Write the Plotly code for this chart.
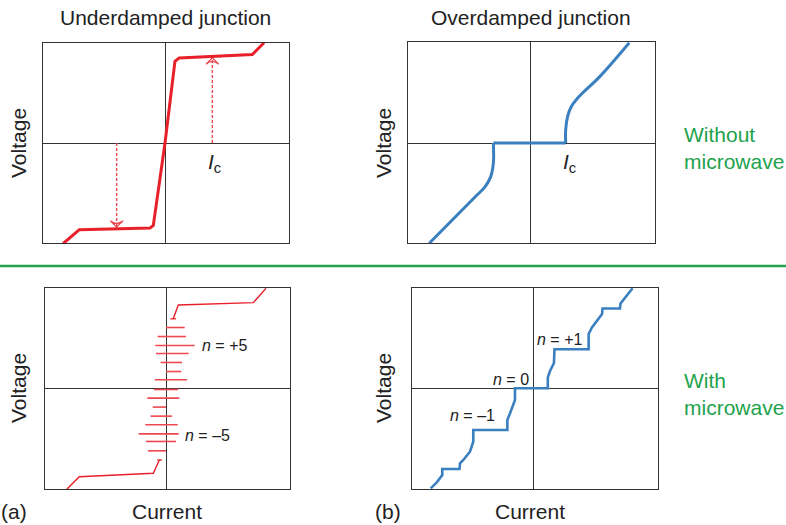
import plotly.graph_objects as go

W, H = 786, 525
FONT = "Liberation Sans, Arial, Helvetica, sans-serif"
RED = "#e8202a"
RED_LIGHT = "#ee4850"
BLUE = "#3a80c0"
GREEN = "#22a24c"
INK = "#222222"

# ---------------- data (current, voltage) in normalised units ----------------
# (a) top: underdamped junction, hysteretic I-V
under_I = [-0.827, -0.697, -0.122, -0.095, 0.0, 0.081, 0.116, 0.710, 0.805]
under_V = [-1.0, -0.863, -0.847, -0.82, 0.0, 0.813, 0.847, 0.880, 0.997]
# switching arrows (dotted): current, from-voltage, to-voltage
arrow_I = [0.385, -0.393]
arrow_V0 = [0.0, 0.0]
arrow_V1 = [0.847, -0.837]

# (b) top: overdamped junction
over_neg_I = [-0.819, -0.433, -0.366, -0.320, -0.298, -0.298]
over_neg_V = [-0.997, -0.52, -0.437, -0.337, -0.203, 0.0]
over_flat_I = [-0.298, 0.290]
over_flat_V = [0.0, 0.0]
over_pos_I = [0.290, 0.290, 0.305, 0.335, 0.390, 0.569, 0.807]
over_pos_V = [0.0, 0.13, 0.26, 0.36, 0.45, 0.663, 0.997]

# (a) bottom: underdamped with microwave
uw_top_I = [0.059, 0.100, 0.710, 0.813]
uw_top_V = [0.692, 0.829, 0.852, 0.995]
uw_bot_I = [-0.807, -0.705, -0.103, -0.054]
uw_bot_V = [-1.005, -0.880, -0.846, -0.713]
step_V = [0.692, 0.605, 0.515, 0.426, 0.346, 0.257, 0.167, 0.085, -0.012,
          -0.098, -0.187, -0.277, -0.363, -0.453, -0.529, -0.622, -0.713]
step_L = [0.035, 0.0, -0.068, -0.087, -0.081, -0.044, 0.0, -0.092, -0.098,
          -0.152, -0.108, -0.125, -0.168, -0.222, -0.163, -0.146, -0.071]
step_R = [0.081, 0.152, 0.162, 0.233, 0.184, 0.130, 0.124, 0.171, 0.098,
          0.108, 0.0, 0.049, 0.095, 0.103, 0.081, 0.0, -0.033]

# (b) bottom: overdamped with microwave (Shapiro steps)
sh_I = [-0.834, -0.783, -0.740, -0.740, -0.600, -0.596, -0.569, -0.515, -0.488,
        -0.488, -0.211, -0.211, -0.189, -0.173, -0.149, -0.149, 0.118, 0.118,
        0.136, 0.168, 0.172, 0.450, 0.450, 0.477, 0.518, 0.559, 0.563, 0.705,
        0.709, 0.753, 0.807]
sh_V = [-0.995, -0.933, -0.863, -0.803, -0.803, -0.746, -0.713, -0.631, -0.531,
        -0.415, -0.415, -0.315, -0.249, -0.186, -0.116, 0.0, 0.0, 0.107,
        0.172, 0.252, 0.389, 0.389, 0.540, 0.605, 0.670, 0.739, 0.794, 0.794,
        0.844, 0.908, 0.995]

# labels
title_labels = ["Underdamped junction", "Overdamped junction"]
row_labels = ["Without<br>microwave", "With<br>microwave"]
axis_x_label = "Current"
axis_y_label = "Voltage"
panel_tags = ["(a)", "(b)"]
ic_label = "<i>I</i><sub>c</sub>"
n_labels_a = ["<i>n</i> = +5", "<i>n</i> = –5"]
n_labels_a_pos = [(0.472, 0.424), (0.337, -0.465)]
n_labels_b = ["<i>n</i> = +1", "<i>n</i> = 0", "<i>n</i> = –1"]
n_labels_b_pos = [(0.209, 0.49), (-0.181, 0.083), (-0.494, -0.266)]

# ---------------- layout geometry (pixels) ----------------
# (left, right, top, bottom, centre-x, centre-y)
boxes = [
    (43, 289, 43, 243, 165, 143),
    (408, 655, 42, 243, 530, 143),
    (45, 290, 288, 489, 166, 388.3),
    (412, 658, 288, 489, 533.3, 388.3),
]
SX, SY = 123.0, 100.5

fig = go.Figure()
layout_axes = {}
for k, (l, r, t, b, cx, cy) in enumerate(boxes, start=1):
    xr = [(l - cx) / SX, (r - cx) / SX]
    yr = [(cy - b) / SY, (cy - t) / SY]
    common = dict(showline=True, mirror=True, linecolor="#333", linewidth=1.3,
                  zeroline=True, zerolinecolor="#333", zerolinewidth=1.3,
                  showgrid=False, showticklabels=False, ticks="", fixedrange=True)
    sfx = "" if k == 1 else str(k)
    layout_axes["xaxis" + sfx] = dict(domain=[l / W, r / W], range=xr,
                                      anchor="y" + sfx, **common)
    layout_axes["yaxis" + sfx] = dict(domain=[1 - b / H, 1 - t / H], range=yr,
                                      anchor="x" + sfx, **common)

# panel 1
for I, v0, v1 in zip(arrow_I, arrow_V0, arrow_V1):
    fig.add_trace(go.Scatter(x=[I, I], y=[v0, v1], mode="lines",
                             line=dict(color=RED_LIGHT, width=1.4, dash="3px,2px"),
                             xaxis="x", yaxis="y", hoverinfo="skip"))
fig.add_trace(go.Scatter(x=arrow_I, y=arrow_V1, mode="markers",
                         marker=dict(symbol="arrow-wide-open", size=9,
                                     angle=[0 if v > 0 else 180 for v in arrow_V1],
                                     color=RED_LIGHT, line=dict(color=RED_LIGHT, width=1.3)),
                         xaxis="x", yaxis="y", hoverinfo="skip"))
fig.add_trace(go.Scatter(x=under_I, y=under_V, mode="lines",
                         line=dict(color=RED, width=3), xaxis="x", yaxis="y"))

# panel 2
for xs, ys, shp in [(over_neg_I, over_neg_V, "spline"), (over_flat_I, over_flat_V, "linear"),
                    (over_pos_I, over_pos_V, "spline")]:
    fig.add_trace(go.Scatter(x=xs, y=ys, mode="lines",
                             line=dict(color=BLUE, width=3, shape=shp),
                             xaxis="x2", yaxis="y2"))

# panel 3
sx, sy = [], []
for v, a, b in zip(step_V, step_L, step_R):
    sx += [a, b, None]
    sy += [v, v, None]
fig.add_trace(go.Scatter(x=sx, y=sy, mode="lines", line=dict(color=RED_LIGHT, width=1.6),
                         xaxis="x3", yaxis="y3", connectgaps=False))
for xs, ys in [(uw_top_I, uw_top_V), (uw_bot_I, uw_bot_V)]:
    fig.add_trace(go.Scatter(x=xs, y=ys, mode="lines", line=dict(color=RED, width=1.4),
                             xaxis="x3", yaxis="y3"))

# panel 4
fig.add_trace(go.Scatter(x=sh_I, y=sh_V, mode="lines", line=dict(color=BLUE, width=2.6),
                         xaxis="x4", yaxis="y4"))

C = dict(xanchor="center", yanchor="middle", showarrow=False)
BIG = 21
ann = []
# Ic labels
ann.append(dict(x=0.40, y=-0.20, xref="x", yref="y", text=ic_label,
                font=dict(size=21, color=INK, family=FONT), **C))
ann.append(dict(x=0.32, y=-0.195, xref="x2", yref="y2", text=ic_label,
                font=dict(size=21, color=INK, family=FONT), **C))
for txt, (x, y) in zip(n_labels_a, n_labels_a_pos):
    ann.append(dict(x=x, y=y, xref="x3", yref="y3", text=txt,
                    font=dict(size=16, color=INK, family=FONT), **C))
for txt, (x, y) in zip(n_labels_b, n_labels_b_pos):
    ann.append(dict(x=x, y=y, xref="x4", yref="y4", text=txt,
                    font=dict(size=16, color=INK, family=FONT), **C))

def px(x, y):
    return x / W, 1 - y / H

# titles
for txt, cx in zip(title_labels, [165.5, 531]):
    x, y = px(cx, 17)
    ann.append(dict(x=x, y=y, xref="paper", yref="paper", text=txt,
                    font=dict(size=BIG, color=INK, family=FONT), **C))
# Voltage labels
for cx in [18, 383]:
    for cy in [143, 388]:
        x, y = px(cx, cy)
        ann.append(dict(x=x, y=y, xref="paper", yref="paper", text=axis_y_label,
                        textangle=-90, font=dict(size=BIG, color=INK, family=FONT), **C))
# Current labels + tags
for cx in [166.5, 530]:
    x, y = px(cx, 511)
    ann.append(dict(x=x, y=y, xref="paper", yref="paper", text=axis_x_label,
                    font=dict(size=BIG, color=INK, family=FONT), **C))
for txt, cx in zip(panel_tags, [14, 387.5]):
    x, y = px(cx, 511)
    ann.append(dict(x=x, y=y, xref="paper", yref="paper", text=txt,
                    font=dict(size=BIG, color=INK, family=FONT), **C))
# green row labels
for txt, cy in zip(row_labels, [148, 394]):
    x, y = px(682, cy)
    ann.append(dict(x=x, y=y, xref="paper", yref="paper", text=txt, align="left",
                    xanchor="left", yanchor="middle", showarrow=False,
                    font=dict(size=BIG, color=GREEN, family=FONT)))

fig.update_layout(
    width=W, height=H, margin=dict(l=0, r=0, t=0, b=0),
    paper_bgcolor="white", plot_bgcolor="white", showlegend=False,
    annotations=ann,
    shapes=[dict(type="line", xref="paper", yref="paper", x0=0, x1=1,
                 y0=1 - 266 / H, y1=1 - 266 / H, line=dict(color=GREEN, width=2.5))],
    **layout_axes,
)
fig.write_html("out.html", config={"displayModeBar": False},
               post_script="document.body.style.margin='0';")
